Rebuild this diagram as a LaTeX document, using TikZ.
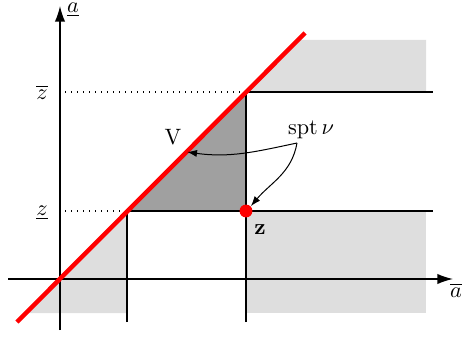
\documentclass[tikz,border=0pt]{standalone}
\usetikzlibrary{arrows.meta}
\definecolor{lg}{HTML}{DEDEDE}
\definecolor{dg}{HTML}{A0A0A0}
\begin{document}
\begin{tikzpicture}[x=0.45pt,y=-0.45pt,
  thickline/.style={line width=1.3pt},
  axis/.style={line width=0.6pt,-{Latex[length=7pt,width=4.6pt]}},
  guide/.style={dash pattern=on 0.5pt off 2.2pt,line width=0.5pt},
  redline/.style={red,line width=2pt},
  pointer/.style={line width=0.45pt,-{Latex[length=4.5pt,width=3.2pt]}},
  lbl/.style={inner sep=0pt}]
\useasboundingbox (0,0) rectangle (462,338);
% light gray regions
\fill[lg] (247,92) -- (299,40) -- (426,40) -- (426,92) -- cycle;
\fill[lg] (127,211) -- (26,313) -- (127,313) -- cycle;
\fill[lg] (246,211) rectangle (426,313);
% dark gray triangle
\fill[dg] (127,211) -- (246,92) -- (246,211) -- cycle;
% dotted guides
\draw[guide] (65,92) -- (246,92);
\draw[guide] (65,211) -- (127,211);
% thick lines
\draw[thickline] (127,322) -- (127,211) -- (433,211);
\draw[thickline] (246,322) -- (246,92) -- (433,92);
% axes
\draw[axis] (8,279) -- (453,279);
\draw[axis] (60,330) -- (60,6);
% diagonal
\draw[redline] (17,322) -- (305,33);
% labels
\node[lbl] (atop) at (73,10) {$\underline{a}$};
\node[lbl] (aright) at (456,290) {$\overline{a}$};
\node[lbl] (zbar) at (42,92) {$\overline{z}$};
\node[lbl] (zund) at (42,213) {$\underline{z}$};
\node[lbl] (V) at (173,137) {$\mathrm{V}$};
\node[lbl] (spt) at (311,130) {$\mathrm{spt}\,\nu$};
\node[lbl] (zb) at (260,230) {$\mathbf{z}$};
% red point
\node[circle,fill=red,inner sep=0pt,minimum size=5.8pt] (zdot) at (246,211) {};
% pointers
\coordinate (s) at (297,143);
\coordinate (vpt) at (187,152);
\draw[pointer] (s) to[out=192,in=-8] (vpt);
\draw[pointer] (s) to[out=260,in=50] (zdot.north east);
\end{tikzpicture}
\end{document}
